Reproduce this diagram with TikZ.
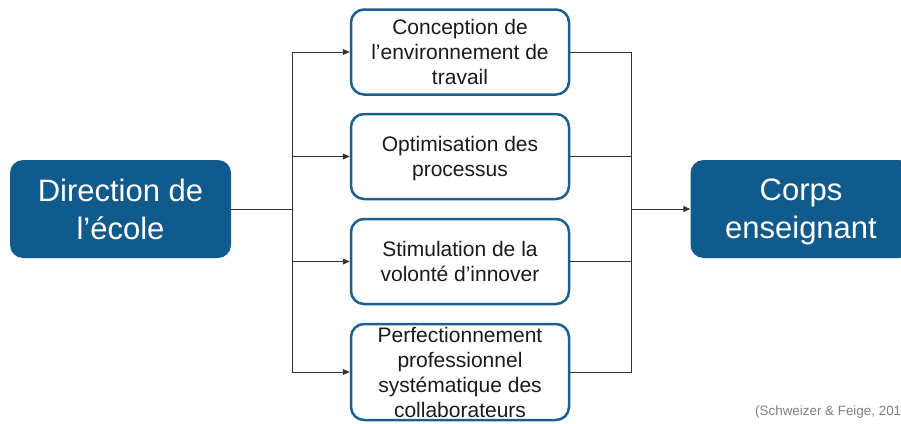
\documentclass[tikz,border=0pt]{standalone}
\usepackage{fontspec}
\setmainfont{Liberation Sans}
\usetikzlibrary{arrows.meta}
\definecolor{mainblue}{HTML}{115B8C}
\definecolor{edgeblue}{HTML}{1C5F8F}
\definecolor{linegray}{HTML}{333333}
\definecolor{txt}{HTML}{1A1A1A}
\definecolor{citegray}{HTML}{7F7F7F}
% a last line whose descenders do not shift the text block
\newcommand\flatline[1]{\raisebox{0pt}[\height][0pt]{#1}}
\tikzset{
  actor/.style={rectangle, rounded corners=13pt, fill=mainblue, draw=none,
    minimum width=221pt, minimum height=98pt, inner sep=0pt, align=center,
    text=white, font=\fontsize{31pt}{38pt}\selectfont},
  lever/.style={rectangle, rounded corners=13pt, fill=white, draw=edgeblue,
    line width=2.5pt, minimum width=218pt, minimum height=85pt, inner sep=0pt,
    align=center, text=txt, font=\fontsize{21pt}{25pt}\selectfont},
  wire/.style={draw=linegray, line width=1pt},
  feed/.style={wire, -{Triangle[length=7pt,width=6pt]}},
}
\begin{document}
\begin{tikzpicture}[x=1pt,y=-1pt]
  \useasboundingbox (0,0) rectangle (901,423);
  \clip (0,0) rectangle (901,423);

  % source and target
  \node[actor] (head) at (120.5,209) {Direction de\\l’école};
  \node[actor] (staff) at (801,209) {Corps\\\flatline{enseignant}};

  % the four levers in between
  \node[lever] (b1) at (460,52) {Conception de\\l’environnement de\\travail};
  \node[lever] (b2) at (460,156.5) {Optimisation des\\\flatline{processus}};
  \node[lever] (b3) at (460,261.5) {Stimulation de la\\volonté d’innover};
  \node[lever, minimum height=96pt] (b4) at (460,372)
    {Perfectionnement\\professionnel\\systématique des\\collaborateurs};

  % fan-out and fan-in junctions
  \coordinate (split) at (292,209);
  \coordinate (merge) at (631,209);

  \draw[wire] (head.east) -- (split);
  \foreach \b in {b1,b2,b3,b4} {
    \draw[feed] (split) |- (\b.west);
    \draw[wire] (\b.east) -| (merge);
  }
  \draw[feed] (merge) -- (staff.west);

  % source reference
  \node[anchor=base west, inner sep=0pt, text=citegray,
    font=\fontsize{13.4pt}{16pt}\selectfont] (cite) at (755,415)
    {(Schweizer \& Feige, 2013)};
\end{tikzpicture}
\end{document}
